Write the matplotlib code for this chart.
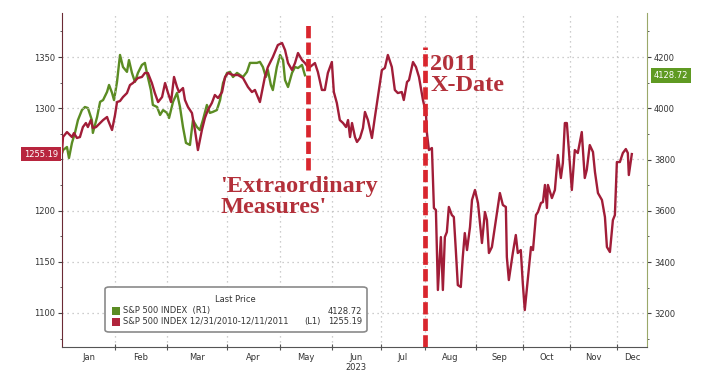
import matplotlib.pyplot as plt
from matplotlib.patches import FancyBboxPatch, Rectangle
from matplotlib.ticker import MultipleLocator
import matplotlib.transforms as mtransforms

# ---------------- DATA ---------------- #
# x = trading-day position on the chart axis (0 = start of Jan)

# S&P 500, 12/31/2010 - 12/11/2011 (left axis, L1)
sp2011_x = [0.0, 0.4, 2.0, 4.0, 4.8, 6.0, 7.2, 8.4, 9.6, 10.4, 11.6, 12.4, 13.7, 15.3, 16.5,
            18.1, 18.5, 20.1, 21.3, 22.1, 23.3, 24.5, 26.1, 27.3, 28.5, 30.5, 32.1, 33.3, 34.5,
            36.1, 37.3, 38.6, 40.2, 41.4, 42.6, 43.8, 45.0, 46.2, 47.0, 48.6, 49.4, 50.6, 52.2,
            53.4, 54.6, 56.2, 57.4, 58.6, 60.2, 61.4, 62.7, 64.3, 65.5, 66.7, 68.7, 70.7, 72.7,
            74.7, 76.3, 77.5, 79.5, 81.5, 82.7, 84.7, 86.7, 88.4, 89.6, 90.8, 92.4, 93.6, 94.8,
            96.4, 97.6, 98.8, 99.6, 101.6, 102.8, 104.4, 105.6, 106.8, 108.4, 109.2, 110.4,
            111.6, 112.9, 114.1, 114.9, 115.7, 116.5, 117.7, 118.5, 119.7, 120.9, 121.7, 122.9,
            124.5, 125.7, 126.9, 128.5, 129.7, 130.9, 132.5, 133.7, 134.9, 136.5, 137.3, 138.6,
            139.4, 141.0, 142.2, 143.4, 145.0, 146.2, 146.6, 147.4, 148.6, 149.4, 150.2, 151.0,
            152.2, 153.0, 153.8, 154.6, 155.4, 156.6, 157.4, 158.2, 159.0, 160.2, 161.0, 161.8,
            162.7, 163.9, 164.7, 165.9, 167.1, 168.7, 169.9, 170.7, 171.5, 172.7, 173.9, 175.9,
            177.1, 178.3, 178.7, 179.5, 181.1, 182.3, 183.1, 184.3, 185.1, 185.9, 187.1, 188.4,
            189.2, 190.4, 191.2, 192.4, 193.2, 194.0, 194.8, 195.2, 196.8, 198.0, 199.2, 200.4,
            201.2, 202.0, 202.8, 203.6, 204.8, 206.0, 207.2, 208.8, 210.0, 210.8, 212.0, 213.3,
            214.1, 215.3, 216.9, 218.1, 218.9, 220.1, 221.3, 222.1, 222.9, 224.1, 225.3, 226.5,
            227.3, 227.7, 228.9]
sp2011 = [1257.6, 1271.9, 1276.7, 1271.8, 1275.7, 1270.9, 1271.8, 1281.6, 1285.5, 1281.6,
          1288.4, 1280.6, 1281.6, 1285.5, 1288.4, 1291.4, 1288.4, 1278.7, 1293.3, 1306.0, 1307.0,
          1310.9, 1314.8, 1322.6, 1324.6, 1329.5, 1330.5, 1334.4, 1334.4, 1324.6, 1314.8, 1306.0,
          1310.9, 1324.6, 1314.8, 1306.0, 1330.5, 1320.7, 1315.8, 1319.7, 1308.0, 1301.2, 1295.3,
          1278.7, 1259.1, 1278.7, 1290.4, 1298.2, 1305.1, 1312.9, 1309.9, 1315.8, 1330.5, 1334.4,
          1332.4, 1332.4, 1329.5, 1320.7, 1315.8, 1317.8, 1306.0, 1330.5, 1340.2, 1350.0, 1361.7,
          1363.7, 1356.8, 1344.1, 1337.3, 1344.1, 1353.9, 1347.1, 1344.1, 1340.2, 1340.2, 1344.1,
          1335.3, 1317.8, 1317.8, 1334.4, 1345.1, 1315.8, 1305.1, 1288.4, 1285.5, 1281.6, 1288.4,
          1271.8, 1285.5, 1271.8, 1267.0, 1270.9, 1280.6, 1296.3, 1288.4, 1270.9, 1291.4, 1310.9,
          1337.3, 1339.3, 1352.0, 1340.2, 1317.8, 1314.8, 1315.8, 1308.0, 1325.6, 1327.5, 1345.1,
          1340.2, 1330.5, 1308.0, 1295.3, 1275.7, 1259.1, 1261.1, 1202.5, 1200.5, 1122.4, 1174.1,
          1122.4, 1174.1, 1179.0, 1203.5, 1195.6, 1193.7, 1161.4, 1127.2, 1125.3, 1154.6, 1178.0,
          1161.4, 1183.9, 1210.3, 1220.1, 1207.4, 1168.3, 1198.6, 1190.7, 1158.5, 1164.4, 1183.9,
          1217.1, 1205.4, 1203.5, 1154.6, 1132.1, 1158.5, 1176.1, 1158.5, 1161.4, 1129.2, 1102.8,
          1132.1, 1164.4, 1161.4, 1195.6, 1198.6, 1207.4, 1208.3, 1225.0, 1202.5, 1225.0, 1212.2,
          1220.1, 1254.3, 1231.8, 1246.4, 1285.5, 1285.5, 1259.1, 1220.1, 1259.1, 1256.2, 1276.7,
          1231.8, 1239.6, 1264.0, 1257.2, 1237.6, 1217.1, 1210.3, 1193.7, 1164.4, 1159.5, 1190.7,
          1195.6, 1247.4, 1247.4, 1256.2, 1260.1, 1256.2, 1234.7, 1255.19]

# S&P 500, 2023 (right axis, R1)
sp2023_x = [0.0, 0.4, 2.0, 2.8, 4.0, 5.2, 6.4, 8.0, 9.2, 10.4, 12.0, 12.4, 14.1, 15.3, 16.5,
            18.1, 18.9, 20.1, 20.9, 22.1, 23.3, 24.5, 26.1, 26.9, 28.1, 29.3, 30.5, 32.1, 33.3,
            34.1, 35.7, 36.5, 38.2, 39.4, 40.6, 42.2, 43.0, 44.6, 46.2, 47.4, 48.6, 49.8, 51.4,
            52.6, 54.2, 55.4, 56.6, 58.2, 59.4, 60.6, 62.2, 63.5, 64.7, 66.3, 67.5, 68.7, 70.3,
            71.5, 72.7, 74.3, 75.5, 76.7, 78.3, 79.5, 80.7, 81.9, 82.7, 83.9, 84.7, 86.3, 87.6,
            88.8, 89.6, 90.8, 92.4, 93.6, 94.8, 96.4, 97.6]
sp2023 = [3824, 3837, 3849, 3806, 3865, 3904, 3954, 3993, 4005, 4001, 3954, 3904, 3966, 4025,
          4032, 4064, 4091, 4060, 4032, 4103, 4208, 4161, 4142, 4188, 4138, 4103, 4138, 4169,
          4177, 4138, 4071, 4013, 4005, 3974, 3993, 3982, 3962, 4025, 4060, 4005, 3927, 3865,
          3857, 3954, 3927, 3915, 3954, 4013, 3982, 3986, 3993, 4032, 4099, 4138, 4142, 4122,
          4138, 4130, 4122, 4142, 4177, 4177, 4177, 4181, 4161, 4122, 4149, 4091, 4071, 4161,
          4208, 4188, 4110, 4083, 4138, 4161, 4157, 4169, 4128.72]

# x axis: month boundaries and month names
month_edges = [0.0, 21.3, 42.2, 66.3, 87.6, 108.4, 128.1, 145.8, 166.3, 185.1, 204.0, 222.9, 235.0]
month_names = ['Jan', 'Feb', 'Mar', 'Apr', 'May', 'Jun\n2023', 'Jul', 'Aug', 'Sep', 'Oct', 'Nov', 'Dec']

# events
extraordinary_x = 98.8
xdate_x = 145.8

left_ticks = [1100, 1150, 1200, 1250, 1300, 1350]
left_labels = ['1100', '1150', '1200', '', '1300', '1350']  # 1250 sits under the last-price tag
right_ticks = [3200, 3400, 3600, 3800, 4000, 4200]

# ---------------- STYLE ---------------- #
RED = '#a11d38'
GREEN = '#5b8c23'
EVENT = '#d9262e'
TEXT_RED = '#b3303a'
GRID = '#bdbdbd'
plt.rcParams['font.family'] = 'DejaVu Sans'

W, H = 703, 379
fig = plt.figure(figsize=(W / 100, H / 100), dpi=100)
ax = fig.add_axes([62 / W, 1 - 347 / H, 585 / W, 334 / H])
ax2 = ax.twinx()
ax.set_zorder(ax2.get_zorder() + 1)
ax.patch.set_visible(False)

# ---------------- AXES ---------------- #
ax.set_xlim(0, 235)
ax.set_ylim(1066.7, 1393)
ax2.set_ylim(3069, 4371.6)

ax.set_xticks(month_edges[1:-1])
ax.set_xticklabels([])
mids = [(a + b) / 2 for a, b in zip(month_edges[:-1], month_edges[1:])]
ax.set_xticks(mids, minor=True)
ax.set_xticklabels(month_names, minor=True)
ax.tick_params(axis='x', which='major', direction='inout', length=5, color='#555555')
ax.tick_params(axis='x', which='minor', length=0, labelsize=6, labelcolor='#333333', pad=4)

ax.set_yticks(left_ticks)
ax.set_yticklabels(left_labels)
ax.yaxis.set_minor_locator(MultipleLocator(25))
ax.tick_params(axis='y', which='both', direction='out', labelsize=6, labelcolor='#333333',
               color='#444444', length=3, pad=2)
ax.tick_params(axis='y', which='minor', length=1.5)
ax2.set_yticks(right_ticks)
ax2.yaxis.set_minor_locator(MultipleLocator(100))
ax2.tick_params(axis='y', which='both', direction='out', labelsize=6, labelcolor='#333333',
                color='#444444', length=3, pad=2)
ax2.tick_params(axis='y', which='minor', length=1.5)

for a in (ax, ax2):
    a.spines['top'].set_visible(False)
ax.spines['right'].set_visible(False)
ax2.spines['left'].set_visible(False)
ax2.spines['bottom'].set_visible(False)
ax.spines['left'].set_color('#6b2a35')
ax.spines['bottom'].set_color('#555555')
ax2.spines['right'].set_color('#9aa86a')

# grid
for xv in month_edges[1:-1]:
    ax.axvline(xv, color=GRID, lw=0.9, ls=(0, (1, 3)), zorder=0)
for yv in left_ticks:
    ax.axhline(yv, color=GRID, lw=0.9, ls=(0, (1, 3)), zorder=0)

# ---------------- LINES ---------------- #
ax2.plot(sp2023_x, sp2023, color=GREEN, lw=1.7)
ax.plot(sp2011_x, sp2011, color=RED, lw=1.7, zorder=3)

# event lines
ax.plot([extraordinary_x, extraordinary_x], [1239.6, 1384], color=EVENT, lw=3.4,
        ls=(0, (2.6, 0.9)), zorder=4)
ax.plot([xdate_x, xdate_x], [1066.7, 1360], color=EVENT, lw=3.4,
        ls=(0, (2.6, 0.9)), zorder=4)

ax.text(63.5, 1213, "'Extraordinary\nMeasures'", color=TEXT_RED, fontsize=17.5,
        family='Liberation Serif', fontweight='bold', va='center', ha='left',
        linespacing=1.0, zorder=5)
ax.text(148, 1332, "2011\nX-Date", color=TEXT_RED, fontsize=17.5,
        family='Liberation Serif', fontweight='bold', va='center', ha='left',
        linespacing=1.0, zorder=5)

# last price tags
trans_l = mtransforms.blended_transform_factory(ax.transAxes, ax.transData)
ax.text(-0.006, sp2011[-1], '%.2f' % sp2011[-1], transform=trans_l, ha='right', va='center',
        fontsize=6, color='white', zorder=6, clip_on=False,
        bbox=dict(boxstyle='square,pad=0.35', fc='#b8253e', ec='none'))
trans_r = mtransforms.blended_transform_factory(ax2.transAxes, ax2.transData)
ax2.text(1.012, sp2023[-1], '%.2f' % sp2023[-1], transform=trans_r, ha='left', va='center',
         fontsize=6, color='white', zorder=6, clip_on=False,
         bbox=dict(boxstyle='square,pad=0.35', fc='#5f9a22', ec='none'))

# ---------------- LEGEND ---------------- #
box = FancyBboxPatch((105 / W, 1 - 332 / H), 262 / W, 45 / H, transform=fig.transFigure,
                     boxstyle='round,pad=0,rounding_size=0.006', fc='white', ec='#8a8a8a',
                     lw=1.2, zorder=10)
fig.add_artist(box)
fig.text(235 / W, 1 - 300 / H, 'Last Price', fontsize=6, color='#333333',
         ha='center', va='center', zorder=11)
rows = [(GREEN, 'S&P 500 INDEX  (R1)', '', sp2023[-1], 311),
        ('#b0243c', 'S&P 500 INDEX 12/31/2010-12/11/2011', '(L1)', sp2011[-1], 321.5)]
for col, name, side, val, yp in rows:
    fig.add_artist(Rectangle((112 / W, 1 - (yp + 4) / H), 8 / W, 8 / H,
                             transform=fig.transFigure, fc=col, ec='none', zorder=11))
    fig.text(123 / W, 1 - yp / H, name, fontsize=6, color='#333333', ha='left',
             va='center', zorder=11)
    if side:
        fig.text(321 / W, 1 - yp / H, side, fontsize=6, color='#333333', ha='right',
                 va='center', zorder=11)
    fig.text(362 / W, 1 - yp / H, '%.2f' % val, fontsize=6, color='#333333', ha='right',
             va='center', zorder=11)

plt.savefig('out.png', dpi=100)
